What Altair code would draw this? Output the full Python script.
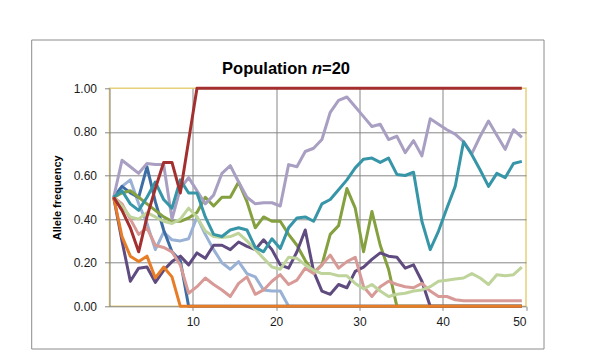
import altair as alt
import pandas as pd

generations = list(range(1, 51))

red = [0.50, 0.44, 0.36, 0.25, 0.41, 0.54, 0.66, 0.66, 0.52, 0.76,
       1.00, 1.00, 1.00, 1.00, 1.00, 1.00, 1.00, 1.00, 1.00, 1.00,
       1.00, 1.00, 1.00, 1.00, 1.00, 1.00, 1.00, 1.00, 1.00, 1.00,
       1.00, 1.00, 1.00, 1.00, 1.00, 1.00, 1.00, 1.00, 1.00, 1.00,
       1.00, 1.00, 1.00, 1.00, 1.00, 1.00, 1.00, 1.00, 1.00, 1.00]

lavender = [0.50, 0.67, 0.64, 0.61, 0.655, 0.65, 0.65, 0.40, 0.54, 0.59,
            0.53, 0.47, 0.51, 0.61, 0.645, 0.57, 0.50, 0.47, 0.475, 0.475,
            0.46, 0.65, 0.64, 0.71, 0.725, 0.765, 0.89, 0.945, 0.96, 0.915,
            0.87, 0.825, 0.835, 0.765, 0.78, 0.705, 0.76, 0.69, 0.86, 0.835,
            0.81, 0.79, 0.755, 0.70, 0.78, 0.85, 0.785, 0.72, 0.81, 0.775]

teal = [0.50, 0.53, 0.47, 0.44, 0.50, 0.57, 0.49, 0.45, 0.58, 0.52,
        0.52, 0.41, 0.33, 0.32, 0.35, 0.36, 0.35, 0.27, 0.25, 0.31,
        0.265, 0.36, 0.405, 0.41, 0.39, 0.47, 0.49, 0.535, 0.58, 0.635,
        0.675, 0.68, 0.66, 0.68, 0.605, 0.60, 0.615, 0.39, 0.26, 0.345,
        0.45, 0.55, 0.755, 0.695, 0.625, 0.55, 0.61, 0.59, 0.655, 0.665]

olive = [0.50, 0.52, 0.53, 0.50, 0.47, 0.44, 0.41, 0.39, 0.39, 0.405,
         0.43, 0.50, 0.46, 0.50, 0.50, 0.57, 0.48, 0.36, 0.41, 0.39,
         0.39, 0.33, 0.28, 0.21, 0.155, 0.19, 0.33, 0.37, 0.54, 0.45,
         0.25, 0.435, 0.28, 0.17, 0.00, 0.00, 0.00, 0.00, 0.00, 0.00,
         0.00, 0.00, 0.00, 0.00, 0.00, 0.00, 0.00, 0.00, 0.00, 0.00]

purple = [0.50, 0.30, 0.115, 0.175, 0.18, 0.11, 0.165, 0.205, 0.23, 0.19,
          0.245, 0.22, 0.28, 0.28, 0.26, 0.295, 0.275, 0.26, 0.305, 0.26,
          0.19, 0.175, 0.25, 0.35, 0.16, 0.07, 0.055, 0.10, 0.085, 0.16,
          0.18, 0.215, 0.245, 0.23, 0.225, 0.175, 0.19, 0.115, 0.00, 0.00,
          0.00, 0.00, 0.00, 0.00, 0.00, 0.00, 0.00, 0.00, 0.00, 0.00]

pink = [0.50, 0.47, 0.40, 0.33, 0.36, 0.28, 0.27, 0.25, 0.19, 0.06,
        0.09, 0.13, 0.10, 0.075, 0.045, 0.105, 0.135, 0.055, 0.075, 0.115,
        0.145, 0.10, 0.12, 0.175, 0.15, 0.19, 0.235, 0.175, 0.205, 0.225,
        0.09, 0.045, 0.09, 0.115, 0.10, 0.09, 0.085, 0.105, 0.07, 0.045,
        0.045, 0.03, 0.025, 0.025, 0.025, 0.025, 0.025, 0.025, 0.025, 0.025]

light_green = [0.50, 0.46, 0.41, 0.40, 0.43, 0.41, 0.39, 0.38, 0.40, 0.45,
               0.41, 0.345, 0.32, 0.315, 0.32, 0.335, 0.30, 0.26, 0.22, 0.18,
               0.17, 0.225, 0.22, 0.19, 0.165, 0.15, 0.15, 0.14, 0.14, 0.105,
               0.08, 0.10, 0.07, 0.045, 0.055, 0.06, 0.07, 0.075, 0.09, 0.115,
               0.12, 0.125, 0.13, 0.15, 0.13, 0.10, 0.145, 0.14, 0.145, 0.18]

light_blue = [0.50, 0.55, 0.58, 0.47, 0.38, 0.26, 0.34, 0.305, 0.30, 0.31,
              0.41, 0.33, 0.26, 0.20, 0.17, 0.205, 0.15, 0.135, 0.075, 0.07,
              0.07, 0.00, 0.00, 0.00, 0.00, 0.00, 0.00, 0.00, 0.00, 0.00,
              0.00, 0.00, 0.00, 0.00, 0.00, 0.00, 0.00, 0.00, 0.00, 0.00,
              0.00, 0.00, 0.00, 0.00, 0.00, 0.00, 0.00, 0.00, 0.00, 0.00]

blue = [0.50, 0.55, 0.52, 0.50, 0.64, 0.48, 0.35, 0.25, 0.21, 0.00,
        0.00, 0.00, 0.00, 0.00, 0.00, 0.00, 0.00, 0.00, 0.00, 0.00,
        0.00, 0.00, 0.00, 0.00, 0.00, 0.00, 0.00, 0.00, 0.00, 0.00,
        0.00, 0.00, 0.00, 0.00, 0.00, 0.00, 0.00, 0.00, 0.00, 0.00,
        0.00, 0.00, 0.00, 0.00, 0.00, 0.00, 0.00, 0.00, 0.00, 0.00]

orange = [0.50, 0.32, 0.23, 0.205, 0.23, 0.13, 0.18, 0.135, 0.00, 0.00,
          0.00, 0.00, 0.00, 0.00, 0.00, 0.00, 0.00, 0.00, 0.00, 0.00,
          0.00, 0.00, 0.00, 0.00, 0.00, 0.00, 0.00, 0.00, 0.00, 0.00,
          0.00, 0.00, 0.00, 0.00, 0.00, 0.00, 0.00, 0.00, 0.00, 0.00,
          0.00, 0.00, 0.00, 0.00, 0.00, 0.00, 0.00, 0.00, 0.00, 0.00]

# drawing order: first is bottom-most
series = [
    ("light_blue", light_blue, "#98B1D4"),
    ("blue", blue, "#3D6DA5"),
    ("olive", olive, "#84A03F"),
    ("purple", purple, "#5F4B80"),
    ("pink", pink, "#D79A96"),
    ("light_green", light_green, "#BED49A"),
    ("lavender", lavender, "#A99FC2"),
    ("teal", teal, "#3795A8"),
    ("orange", orange, "#E87D27"),
    ("red", red, "#A3302E"),
]

y_ticks = [0.0, 0.2, 0.4, 0.6, 0.8, 1.0]
x_ticks = [10.5, 20.5, 30.5, 40.5, 50.5]

GRID = "#868686"
FONT = "Liberation Sans"

x_enc = alt.X(
    "gen:Q",
    title=None,
    scale=alt.Scale(domain=[0.5, 50.5], nice=False, zero=False),
    axis=alt.Axis(
        values=x_ticks,
        labelExpr="'' + floor(datum.value)",
        grid=True,
        gridColor={"condition": {"test": "datum.value > 50", "value": "transparent"}, "value": GRID},
        gridWidth=1,
        domainColor=GRID,
        tickColor=GRID,
        tickSize=4,
        labelPadding=6,
        labelFont=FONT,
        labelFontSize=12,
        labelColor="#1a1a1a",
        labelFlush=True,
        labelOverlap=False,
    ),
)

y_enc = alt.Y(
    "freq:Q",
    title="Allele frequency",
    scale=alt.Scale(domain=[0, 1], nice=False),
    axis=alt.Axis(
        values=y_ticks,
        format=".2f",
        grid=True,
        gridColor={"condition": {"test": "datum.value >= 1 || datum.value <= 0", "value": "transparent"}, "value": GRID},
        gridWidth=1,
        domainColor=GRID,
        tickColor=GRID,
        tickSize=5,
        labelPadding=8,
        labelFont=FONT,
        labelFontSize=12,
        labelColor="#1a1a1a",
        labelFlush=False,
        labelOverlap=False,
        titleFont=FONT,
        titleFontSize=11,
        titleFontWeight="bold",
        titleColor="#000000",
        titleX=-52,
        titleY=109,
        titleBaseline="middle",
    ),
)

layers = []
for name, vals, col in series:
    df = pd.DataFrame({"gen": generations, "freq": vals, "series": name})
    layers.append(
        alt.Chart(df).mark_line(color=col, strokeWidth=3, strokeJoin="round").encode(x=x_enc, y=y_enc)
    )

one = alt.Data(values=[{}])

frame = alt.Chart(one).mark_rect(fillOpacity=0, stroke="#8c8c8c", strokeWidth=1).encode(
    x=alt.value(-77.8), x2=alt.value(434.5), y=alt.value(-48.3), y2=alt.value(260.7)
)

title_style = dict(baseline="middle", font=FONT, fontSize=16.5, fontWeight="bold", color="#000000")
t1 = alt.Chart(one).mark_text(text="Population", align="right", **title_style).encode(
    x=alt.value(197.8), y=alt.value(-19.3))
t2 = alt.Chart(one).mark_text(text="n", align="left", fontStyle="italic", **title_style).encode(
    x=alt.value(202.4), y=alt.value(-19.3))
t3 = alt.Chart(one).mark_text(text="=20", align="left", **title_style).encode(
    x=alt.value(212.5), y=alt.value(-19.3))

chart = alt.layer(frame, *layers, t1, t2, t3).properties(
    width=416.5,
    height=218,
    autosize=alt.AutoSizeParams(type="none"),
    padding={"left": 101.5, "top": 80.3, "right": 78, "bottom": 49.7},
    background="white",
).configure_view(stroke="#E6D07A", strokeWidth=1.5)

chart.save("out.html", embed_options={"renderer": "svg", "actions": False})
